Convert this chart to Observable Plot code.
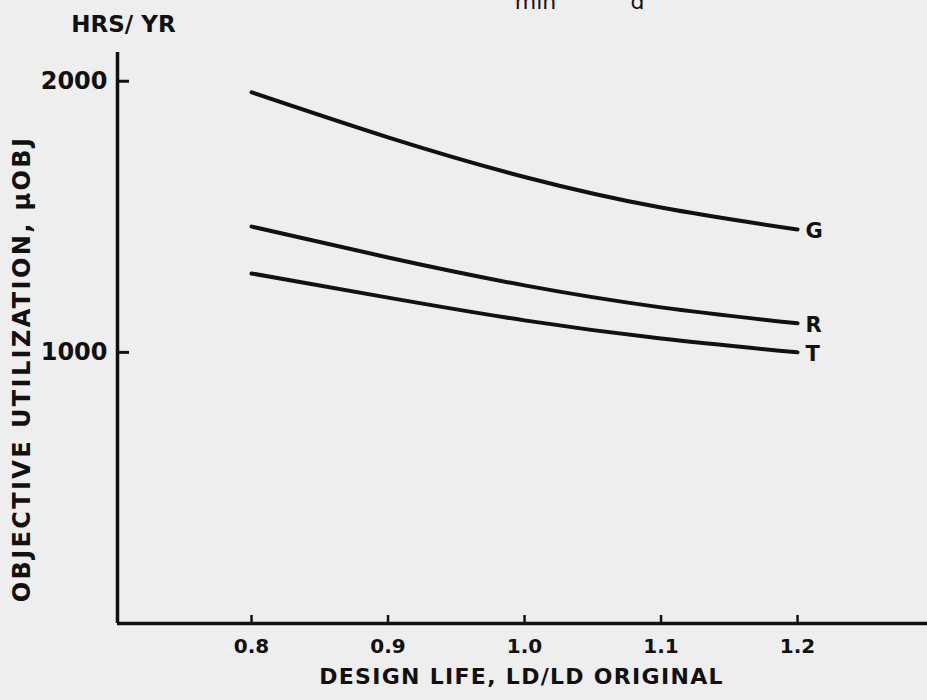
<!DOCTYPE html>
<html>
<head>
<meta charset="utf-8">
<script src="https://cdn.jsdelivr.net/npm/d3@7"></script>
<script src="https://cdn.jsdelivr.net/npm/@observablehq/plot@0.6"></script>
<style>
  html, body { margin: 0; padding: 0; background: #eeeeee; }
  #chart { width: 927px; height: 700px; overflow: hidden; }
</style>
</head>
<body>
<div id="chart"></div>
<script>
// ---- data ----
const seriesNames = ["G", "R", "T"];
const designLife = [0.8, 0.9, 1.0, 1.1, 1.2];
const gValues = [1959, 1793, 1647, 1534, 1453];
const rValues = [1464, 1350, 1247, 1166, 1107];
const tValues = [1291, 1202, 1118, 1051, 1000];
const xTicks = [0.8, 0.9, 1.0, 1.1, 1.2];
const xTickLabels = ["0.8", "0.9", "1.0", "1.1", "1.2"];
const yTicks = [1000, 2000];
const yTickLabels = ["1000", "2000"];
const xDomain = [0.7018, 1.2952];
const yDomain = [0, 2106];
const yTitle = "OBJECTIVE UTILIZATION, \u03BCOBJ";
const xTitle = "DESIGN LIFE, LD/LD ORIGINAL";
const unitsText = "HRS/ YR";

// ---- build table ----
const valuesBySeries = {G: gValues, R: rValues, T: tValues};
const rows = [];
for (const s of seriesNames) {
  designLife.forEach((x, i) => rows.push({series: s, x, y: valuesBySeries[s][i]}));
}
const last = designLife.length - 1;
const ends = seriesNames.map(s => ({series: s, x: designLife[last], y: valuesBySeries[s][last]}));

const plot = Plot.plot({
  width: 927,
  height: 700,
  marginLeft: 117,
  marginRight: 0,
  marginTop: 52,
  marginBottom: 77,
  style: {fontFamily: "DejaVu Sans", background: "#eeeeee", color: "#111", overflow: "visible"},
  x: {domain: xDomain},
  y: {domain: yDomain},
  marks: [
    Plot.ruleY([yDomain[0]], {stroke: "#111", strokeWidth: 3.5}),
    Plot.ruleX([xDomain[0]], {stroke: "#111", strokeWidth: 3.5}),
    Plot.axisX({ticks: xTicks, tickFormat: d => xTickLabels[xTicks.indexOf(d)], tickSize: -8, tickPadding: 23,
      fontSize: 20, fontWeight: "bold", strokeWidth: 2.5, label: null}),
    Plot.axisY({ticks: yTicks, tickFormat: d => yTickLabels[yTicks.indexOf(d)], tickSize: -12, tickPadding: 22,
      fontSize: 24, fontWeight: "bold", strokeWidth: 3, label: null}),
    Plot.line(rows, {x: "x", y: "y", z: "series", curve: "natural", stroke: "#111", strokeWidth: 4, strokeLinecap: "round"}),
    Plot.text(ends, {x: "x", y: "y", text: "series", textAnchor: "start", dx: 8, dy: 2, fontSize: 21, fontWeight: "bold", fill: "#111"}),
    Plot.text([yTitle], {frameAnchor: "left", textAnchor: "middle", rotate: -90, dx: -95, dy: 31, fontSize: 24, fontWeight: "bold", fill: "#111"}),
    Plot.text([xTitle], {frameAnchor: "bottom", textAnchor: "middle", dx: -1, dy: 60, fontSize: 22, fontWeight: "bold", fill: "#111"}),
    Plot.text([unitsText], {frameAnchor: "top-left", dx: 6, dy: -28, textAnchor: "middle", lineAnchor: "middle", fontSize: 23, fontWeight: "bold", fill: "#111"}),
    Plot.text(["min"], {frameAnchor: "top-left", dx: 418, dy: -44, lineAnchor: "bottom", textAnchor: "middle", fontSize: 22, fill: "#111"}),
    Plot.text(["d"], {frameAnchor: "top-left", dx: 520, dy: -44, lineAnchor: "bottom", textAnchor: "middle", fontSize: 22, fill: "#111"})
  ]
});
// letter spacing for the wide hand-lettered titles
const spacing = new Map([[yTitle, "2.4px"], [xTitle, "1.3px"]]);
d3.select(plot).selectAll("text").each(function () {
  const t = this.textContent;
  if (spacing.has(t)) this.style.letterSpacing = spacing.get(t);
});
document.getElementById("chart").appendChild(plot);
</script>
</body>
</html>
